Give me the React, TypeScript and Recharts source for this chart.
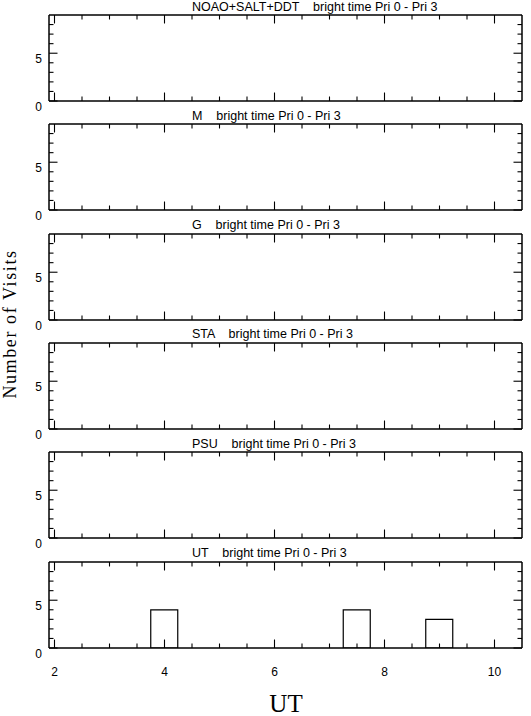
import { BarChart, Bar, XAxis, YAxis } from "recharts";

// half-hour bins in UT
const binCenters = [2, 2.5, 3, 3.5, 4, 4.5, 5, 5.5, 6, 6.5, 7, 7.5, 8, 8.5, 9, 9.5, 10];

const panelNames = ["NOAO+SALT+DDT", "M", "G", "STA", "PSU", "UT"];
const subtitle = "bright time Pri 0 - Pri 3";

const noaoVisits = [0, 0, 0, 0, 0, 0, 0, 0, 0, 0, 0, 0, 0, 0, 0, 0, 0];
const mVisits = [0, 0, 0, 0, 0, 0, 0, 0, 0, 0, 0, 0, 0, 0, 0, 0, 0];
const gVisits = [0, 0, 0, 0, 0, 0, 0, 0, 0, 0, 0, 0, 0, 0, 0, 0, 0];
const staVisits = [0, 0, 0, 0, 0, 0, 0, 0, 0, 0, 0, 0, 0, 0, 0, 0, 0];
const psuVisits = [0, 0, 0, 0, 0, 0, 0, 0, 0, 0, 0, 0, 0, 0, 0, 0, 0];
const utVisits = [0, 0, 0, 0, 4, 0, 0, 0, 0, 0, 0, 4, 0, 0, 3, 0, 0];

const panelVisits = [noaoVisits, mVisits, gVisits, staVisits, psuVisits, utVisits];

const xTicks = [2, 2.5, 3, 3.5, 4, 4.5, 5, 5.5, 6, 6.5, 7, 7.5, 8, 8.5, 9, 9.5, 10];
const yTicks = [0, 1, 2, 3, 4, 5, 6, 7, 8];
const xMajor = [2, 4, 6, 8, 10];
const yMajor = [0, 5];

const SANS = "'Liberation Sans', Arial, Helvetica, sans-serif";
const SERIF = "'Liberation Serif', 'Times New Roman', serif";

const PLOT_TOP = 15;
const PLOT_STEP = 109.3;
const PLOT_H = 86;
const LEFT = 49;
const RIGHT = 9;

const makeXTick = (side: "top" | "bottom", labels: boolean) => (props: any) => {
  const { x, y, payload } = props;
  const major = xMajor.includes(payload.value);
  const len = major ? 8.5 : 4.5;
  const dir = side === "bottom" ? -1 : 1;
  return (
    <g>
      <line x1={x} x2={x} y1={y} y2={y + dir * len} stroke="#000" strokeWidth={1.1} />
      {labels && major && (
        <text x={x} y={y + 28} textAnchor="middle" fontSize={12} fontFamily={SANS} fill="#000">
          {payload.value}
        </text>
      )}
    </g>
  );
};

const makeYTick = (side: "left" | "right", labels: boolean) => (props: any) => {
  const { x, y, payload } = props;
  const major = yMajor.includes(payload.value);
  const len = major ? 8.5 : 4.5;
  const dir = side === "left" ? 1 : -1;
  return (
    <g>
      <line x1={x} x2={x + dir * len} y1={y} y2={y} stroke="#000" strokeWidth={1.1} />
      {labels && major && (
        <text x={x - 7} y={y + 9.5} textAnchor="end" fontSize={12} fontFamily={SANS} fill="#000">
          {payload.value}
        </text>
      )}
    </g>
  );
};

const axisLine = { stroke: "#000", strokeWidth: 1.5 };

const Panel = ({ visits, top, last }: { visits: number[]; top: number; last: boolean }) => {
  const data = binCenters.map((ut, i) => ({ ut, visits: visits[i] }));
  return (
    <div style={{ position: "absolute", left: 0, top: top - 10 }}>
      <BarChart
        width={531}
        height={PLOT_H + 50}
        data={data}
        // each axis below takes 1px, so margins are 1px smaller
        margin={{ top: 9, right: RIGHT - 1, bottom: 39, left: LEFT - 1 }}
        barCategoryGap={0}
        barGap={0}
      >
        <XAxis
          xAxisId="bottom"
          dataKey="ut"
          type="number"
          domain={[1.9, 10.5]}
          allowDataOverflow
          ticks={xTicks}
          interval={0}
          height={1}
          tickSize={0}
          tickMargin={0}
          tickLine={false}
          axisLine={axisLine}
          tick={makeXTick("bottom", last)}
        />
        <XAxis
          xAxisId="top"
          orientation="top"
          dataKey="ut"
          type="number"
          domain={[1.9, 10.5]}
          allowDataOverflow
          ticks={xTicks}
          interval={0}
          height={1}
          tickSize={0}
          tickMargin={0}
          tickLine={false}
          axisLine={axisLine}
          tick={makeXTick("top", false)}
        />
        <YAxis
          yAxisId="left"
          type="number"
          domain={[0, 9]}
          allowDataOverflow
          ticks={yTicks}
          interval={0}
          width={1}
          tickSize={0}
          tickMargin={0}
          tickLine={false}
          axisLine={axisLine}
          tick={makeYTick("left", true)}
        />
        <YAxis
          yAxisId="right"
          orientation="right"
          type="number"
          domain={[0, 9]}
          allowDataOverflow
          ticks={yTicks}
          interval={0}
          width={1}
          tickSize={0}
          tickMargin={0}
          tickLine={false}
          axisLine={axisLine}
          tick={makeYTick("right", false)}
        />
        <Bar
          xAxisId="bottom"
          yAxisId="left"
          dataKey="visits"
          fill="none"
          stroke="#000"
          strokeWidth={1.2}
          isAnimationActive={false}
        />
      </BarChart>
    </div>
  );
};

export default function App() {
  return (
    <div style={{ position: "absolute", left: 0, top: 0, width: 531, height: 716, background: "#fff", overflow: "hidden" }}>
      {panelVisits.map((v, i) => (
        <Panel key={panelNames[i]} visits={v} top={PLOT_TOP + i * PLOT_STEP} last={i === panelVisits.length - 1} />
      ))}
      <svg width={531} height={716} style={{ position: "absolute", left: 0, top: 0, pointerEvents: "none" }}>
        {panelNames.map((name, i) => (
          <text
            key={name}
            x={192}
            y={PLOT_TOP + i * PLOT_STEP - 4.5}
            fontSize={12.5}
            fontFamily={SANS}
            fill="#000"
            style={{ whiteSpace: "pre" }}
          >
            {`${name}    ${subtitle}`}
          </text>
        ))}
        <text
          x={16}
          y={324}
          transform="rotate(-90 16 324)"
          textAnchor="middle"
          fontSize={18}
          letterSpacing={1.6}
          fontFamily={SERIF}
          fill="#000"
        >
          Number of Visits
        </text>
        <text x={286} y={712} textAnchor="middle" fontSize={25} fontFamily={SERIF} fill="#000">
          UT
        </text>
      </svg>
    </div>
  );
}
